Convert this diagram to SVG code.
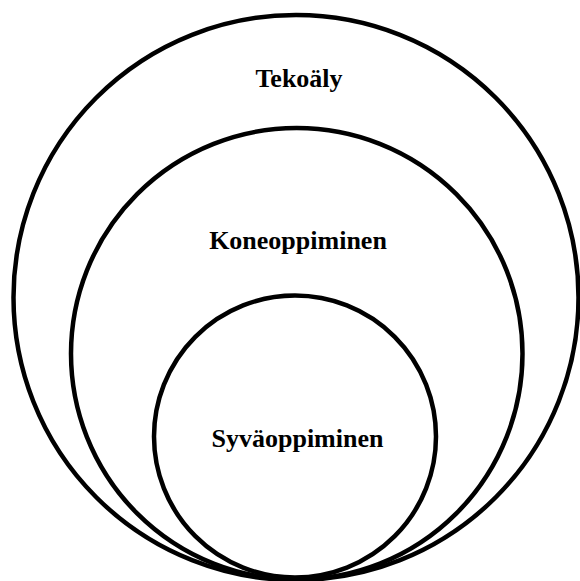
<svg xmlns="http://www.w3.org/2000/svg" width="580" height="581" viewBox="0 0 580 581">
<style>
.c{fill:none;stroke:#000;stroke-width:4.5}
.t{font-family:"Liberation Serif","Times New Roman",serif;font-weight:bold;font-size:26px;fill:#000;text-anchor:middle}
</style>
<rect width="580" height="581" fill="#fff"/>
<g id="connectors"></g>
<g id="tekoaly"><circle class="c" cx="296" cy="297.5" r="282.5"/><text class="t" x="299" y="87">Tekoäly</text></g>
<g id="koneoppiminen"><circle class="c" cx="296.75" cy="353.75" r="225.75"/><text class="t" x="298" y="249">Koneoppiminen</text></g>
<g id="syvaoppiminen"><circle class="c" cx="295" cy="436.5" r="141"/><text class="t" x="297.5" y="447">Syväoppiminen</text></g>
</svg>
